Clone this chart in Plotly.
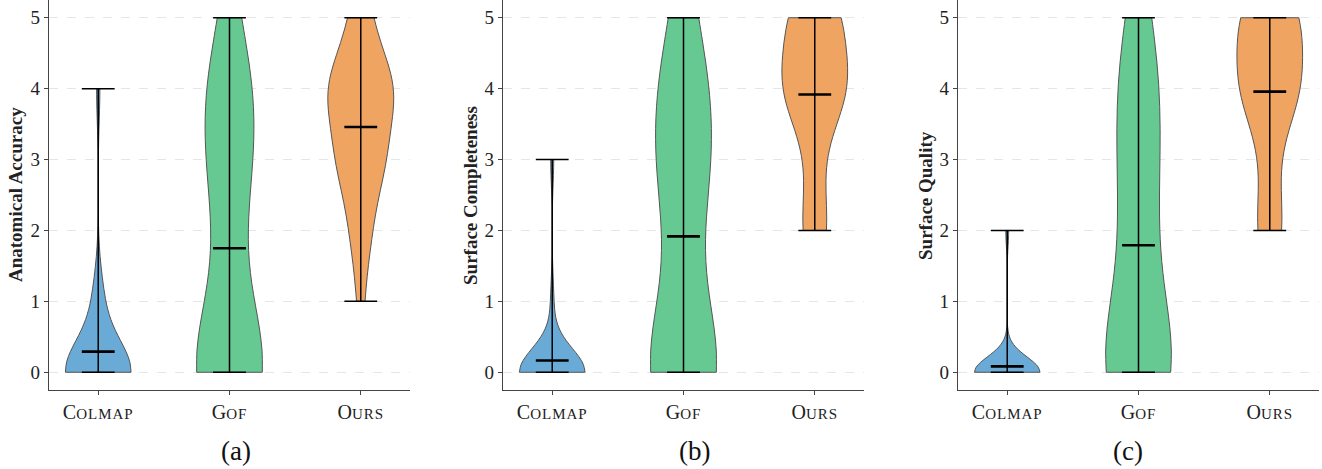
import numpy as np
import plotly.graph_objects as go

# ---------------- data ----------------
methods = ["COLMAP", "GOF", "OURS"]
tick_text = [
    "C<span style='font-size:15px;letter-spacing:1px'>OLMAP</span>",
    "G<span style='font-size:15px;letter-spacing:1px'>OF</span>",
    "O<span style='font-size:15px;letter-spacing:1px'>URS</span>",
]
scores = [0, 1, 2, 3, 4, 5]
y_ticks = [0, 1, 2, 3, 4, 5]
panel_titles = ["Anatomical Accuracy", "Surface Completeness", "Surface Quality"]
panel_labels = ["(a)", "(b)", "(c)"]

# number of ratings given at each score 0..5
acc_colmap = [20, 3, 0, 0, 1, 0]
acc_gof = [11, 1, 2, 4, 5, 1]
acc_ours = [0, 1, 3, 7, 10, 3]
comp_colmap = [22, 1, 0, 1, 0, 0]
comp_gof = [10, 1, 2, 5, 4, 2]
comp_ours = [0, 0, 4, 2, 10, 8]
qual_colmap = [23, 0, 1, 0, 0, 0]
qual_gof = [10, 2, 3, 3, 4, 2]
qual_ours = [0, 0, 4, 2, 9, 9]

panels = [
    [acc_colmap, acc_gof, acc_ours],
    [comp_colmap, comp_gof, comp_ours],
    [qual_colmap, qual_gof, qual_ours],
]

# ---------------- styling ----------------
colors = ["#6aaad7", "#66c992", "#efa462"]
FONT = "Liberation Serif"
W, H = 1322, 469
plot_bottom = 390
x_domains = [(49, 410), (503, 864), (958, 1319)]
title_x = [15, 470, 925]
label_x = [236, 694, 1128]

fig = go.Figure()

for p, counts_list in enumerate(panels):
    xa = "x" if p == 0 else f"x{p+1}"
    ya = "y" if p == 0 else f"y{p+1}"
    cap_x, cap_y, mean_x, mean_y = [], [], [], []
    for i, counts in enumerate(counts_list):
        samples = np.repeat(scores, counts).astype(float)
        n = len(samples)
        bw = np.std(samples, ddof=1) * n ** (-1 / 5)  # Scott's rule
        fig.add_trace(go.Violin(
            x=[i] * n, y=samples, xaxis=xa, yaxis=ya,
            width=0.5, spanmode="hard", bandwidth=bw, scalemode="width",
            fillcolor=colors[i], line=dict(color="#555555", width=1),
            opacity=1, points=False, box_visible=False, meanline_visible=False,
            showlegend=False, hoverinfo="skip",
        ))
        lo, hi, mu = samples.min(), samples.max(), samples.mean()
        cap_x += [i, i, None, i - 0.125, i + 0.125, None, i - 0.125, i + 0.125, None]
        cap_y += [lo, hi, None, lo, lo, None, hi, hi, None]
        mean_x += [i - 0.125, i + 0.125, None]
        mean_y += [mu, mu, None]
    fig.add_trace(go.Scatter(x=cap_x, y=cap_y, xaxis=xa, yaxis=ya, mode="lines",
                             line=dict(color="black", width=1.5),
                             showlegend=False, hoverinfo="skip"))
    fig.add_trace(go.Scatter(x=mean_x, y=mean_y, xaxis=xa, yaxis=ya, mode="lines",
                             line=dict(color="black", width=2.6),
                             showlegend=False, hoverinfo="skip"))

layout = dict(
    width=W, height=H,
    margin=dict(l=0, r=0, t=0, b=H - plot_bottom, pad=0),
    paper_bgcolor="white", plot_bgcolor="white",
    violinmode="overlay",
    font=dict(family=FONT, color="#222222"),
    showlegend=False,
)
annotations = []
for p in range(3):
    xk = "xaxis" if p == 0 else f"xaxis{p+1}"
    yk = "yaxis" if p == 0 else f"yaxis{p+1}"
    d0, d1 = x_domains[p]
    layout[xk] = dict(
        domain=[d0 / W, d1 / W], range=[-0.375, 2.375],
        tickmode="array", tickvals=[0, 1, 2], ticktext=tick_text,
        tickfont=dict(family=FONT, size=20, color="#222222"),
        ticks="outside", ticklen=4, tickcolor="#444444", tickwidth=1,
        showline=True, linecolor="#444444", linewidth=1.2,
        showgrid=False, zeroline=False, anchor="y" if p == 0 else f"y{p+1}",
        fixedrange=True,
    )
    layout[yk] = dict(
        domain=[0, 1], range=[-0.25, 5.25],
        tickmode="array", tickvals=y_ticks, ticktext=[str(v) for v in y_ticks],
        tickfont=dict(family=FONT, size=19, color="#222222"),
        ticks="outside", ticklen=4, tickcolor="#444444", tickwidth=1,
        showline=True, linecolor="#444444", linewidth=1.2,
        showgrid=True, gridcolor="#e6e6e6", griddash="dash", gridwidth=1,
        zeroline=False, anchor="x" if p == 0 else f"x{p+1}",
        fixedrange=True,
    )
    annotations.append(dict(
        text=f"<b>{panel_titles[p]}</b>", textangle=-90,
        x=title_x[p] / W, y=0.5, xref="paper", yref="paper",
        xanchor="center", yanchor="middle", showarrow=False,
        font=dict(family=FONT, size=19, color="#222222"),
    ))
    annotations.append(dict(
        text=panel_labels[p],
        x=label_x[p] / W, y=(plot_bottom - 451) / plot_bottom,
        xref="paper", yref="paper", xanchor="center", yanchor="middle",
        showarrow=False, font=dict(family=FONT, size=27, color="#111111"),
    ))
layout["annotations"] = annotations
fig.update_layout(**layout)

fig.write_html("out.html",
               config={"displayModeBar": False, "staticPlot": True},
               post_script="document.body.style.margin='0px';document.body.style.overflow='hidden';")
